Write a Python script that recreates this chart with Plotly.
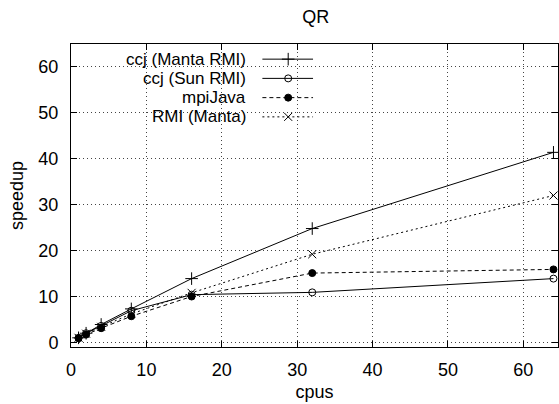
import plotly.graph_objects as go

# ---- data ----
cpus = [1, 2, 4, 8, 16, 32, 64]
ccj_manta = [1.0, 2.0, 3.9, 7.3, 13.9, 24.8, 41.4]
ccj_sun = [1.0, 2.0, 3.6, 6.9, 10.4, 10.9, 13.9]
mpijava = [0.9, 1.7, 3.1, 5.7, 10.0, 15.1, 15.9]
rmi_manta = [1.0, 1.9, 3.4, 6.2, 10.8, 19.2, 32.0]

series_names = ["ccj (Manta RMI)", "ccj (Sun RMI)", "mpiJava", "RMI (Manta)"]
series_vals = [ccj_manta, ccj_sun, mpijava, rmi_manta]
x_ticks = [0, 10, 20, 30, 40, 50, 60]
y_ticks = [0, 10, 20, 30, 40, 50, 60]
title = "QR"
x_title = "cpus"
y_title = "speedup"

# ---- styles ----
styles = [
    dict(dash="solid", symbol="cross-thin", size=9, color="black"),
    dict(dash="solid", symbol="circle-open", size=7, color="black"),
    dict(dash="4px,3px", symbol="circle", size=7, color="black"),
    dict(dash="2px,3px", symbol="x-thin", size=8, color="black"),
]
FONT = "Liberation Sans, Arial, Helvetica, sans-serif"
FS = 18
LEG_FS = 17

fig = go.Figure()
for name, vals, st in zip(series_names, series_vals, styles):
    fig.add_trace(go.Scatter(
        x=cpus, y=vals, name=name, mode="lines+markers",
        line=dict(color=st["color"], width=1, dash=st["dash"]),
        marker=dict(symbol=st["symbol"], size=st["size"], color=st["color"],
                    line=dict(color=st["color"], width=1)),
        showlegend=False,
    ))

# ---- gnuplot-like legend (text right-aligned, sample on the right) ----
row0 = 0.950
row_step = 0.0635
text_right = 0.361
samp_x0, samp_x1, samp_xm = 0.393, 0.497, 0.446
for i, (name, st) in enumerate(zip(series_names, styles)):
    yy = row0 - i * row_step
    fig.add_annotation(x=text_right, y=yy, xref="paper", yref="paper",
                       text=name, showarrow=False, xanchor="right", yanchor="middle",
                       borderpad=0,
                       font=dict(family=FONT, size=LEG_FS, color="black"))
    fig.add_trace(go.Scatter(
        x=[samp_x0, samp_x1], y=[yy, yy], xaxis="x2", yaxis="y2", mode="lines",
        line=dict(color=st["color"], width=1, dash=st["dash"]),
        showlegend=False, hoverinfo="skip"))
    fig.add_trace(go.Scatter(
        x=[samp_xm], y=[yy], xaxis="x2", yaxis="y2", mode="markers",
        marker=dict(symbol=st["symbol"], size=st["size"], color=st["color"],
                    line=dict(color=st["color"], width=1)),
        showlegend=False, hoverinfo="skip"))

axis_common = dict(
    showline=True, linecolor="black", linewidth=1, mirror="ticks",
    ticks="inside", ticklen=6, tickcolor="black", tickwidth=1,
    showgrid=True, gridcolor="#444", gridwidth=1, griddash="1px,3px",
    zeroline=False, tickfont=dict(family=FONT, size=FS, color="black"),
)

fig.update_layout(
    width=559, height=404,
    margin=dict(l=71, r=1, t=44, b=57),
    paper_bgcolor="white", plot_bgcolor="white",
    font=dict(family=FONT, size=FS, color="black"),
    title=dict(text=title, x=0.565, xanchor="center", y=0.958, yanchor="middle",
               font=dict(family=FONT, size=FS, color="black")),
    xaxis=dict(range=[0, 64.6], tickvals=x_ticks, ticklabelstandoff=6,
               title=dict(text=x_title, standoff=6, font=dict(family=FONT, size=FS)),
               **axis_common),
    yaxis=dict(range=[-1, 65], tickvals=y_ticks, ticklabelstandoff=8,
               title=dict(text=y_title, standoff=10, font=dict(family=FONT, size=FS)),
               **axis_common),
    xaxis2=dict(overlaying="x", range=[0, 1], visible=False, fixedrange=True),
    yaxis2=dict(overlaying="y", range=[0, 1], visible=False, fixedrange=True),
    showlegend=False,
)

fig.write_html("out.html", config={"displayModeBar": False},
               post_script="document.body.style.margin='0';")
